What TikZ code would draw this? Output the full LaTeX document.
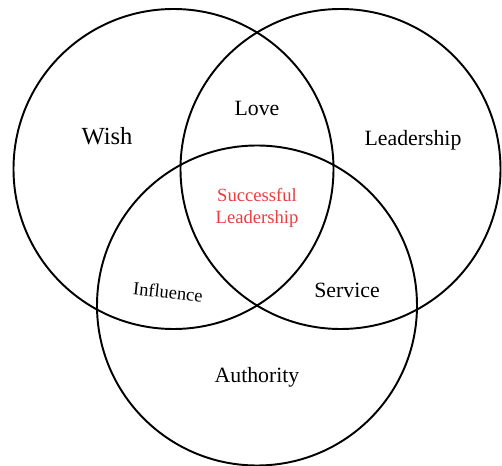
\documentclass[tikz,border=0pt]{standalone}
\usepackage{fontspec}
\setmainfont{Liberation Serif}
\usepackage{xcolor}
\usepackage{tikz}

\definecolor{coreRed}{RGB}{232,62,62}

\begin{document}
\begin{tikzpicture}[
  ring/.style={line width=1.1pt},
  lbl/.style={font=\fontsize{12.4}{14}\selectfont, inner sep=1pt},
  biglbl/.style={font=\fontsize{14}{16}\selectfont, inner sep=1pt},
  smalllbl/.style={font=\fontsize{10.5}{12}\selectfont, inner sep=1pt}]
  \useasboundingbox (0,0) rectangle (10.04,9.32);
  % the three sets
  \draw[ring] (3.47,5.94) circle (3.2);
  \draw[ring] (6.81,5.94) circle (3.2);
  \draw[ring] (5.14,3.21) circle (3.2);
  % set names
  \node[biglbl] (wish) at (2.14,6.60) {Wish};
  \node[lbl] (lead) at (8.26,6.52) {Leadership};
  \node[lbl] (auth) at (5.14,1.78) {Authority};
  % overlaps
  \node[lbl] (love) at (5.14,7.16) {Love};
  \node[smalllbl,rotate=-6] (infl) at (3.36,3.48) {Influence};
  \node[lbl] (serv) at (6.94,3.52) {Service};
  \node[font=\fontsize{10.6}{12.6}\selectfont,text=coreRed,align=center,inner sep=1pt]
    (core) at (5.14,5.16) {Successful\\Leadership};
\end{tikzpicture}
\end{document}
